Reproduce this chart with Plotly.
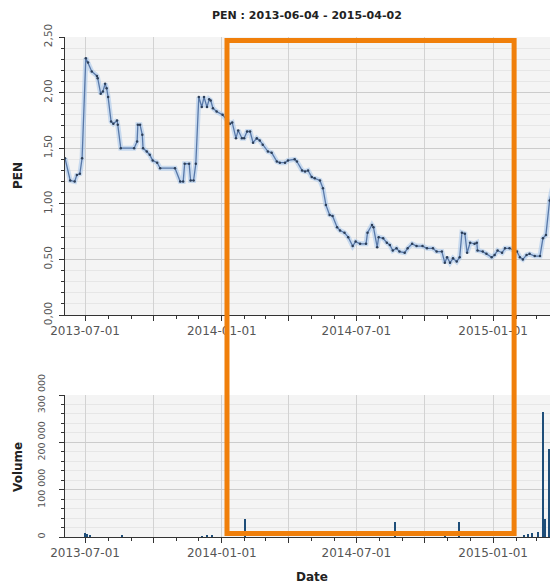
import plotly.graph_objects as go

title_text = "PEN : 2013-06-04 - 2015-04-02"

price_dates = [
    "2013-06-04", "2013-06-11", "2013-06-17", "2013-06-20", "2013-06-24", "2013-06-27",
    "2013-07-02", "2013-07-05", "2013-07-10", "2013-07-17", "2013-07-18", "2013-07-22",
    "2013-07-25", "2013-07-28", "2013-07-30", "2013-08-01", "2013-08-05", "2013-08-08",
    "2013-08-13", "2013-08-14", "2013-08-18", "2013-09-05", "2013-09-09", "2013-09-10",
    "2013-09-13", "2013-09-16", "2013-09-17", "2013-09-22", "2013-09-26", "2013-09-30",
    "2013-10-06", "2013-10-10", "2013-10-30", "2013-11-06", "2013-11-10", "2013-11-12",
    "2013-11-18", "2013-11-20", "2013-11-24", "2013-11-27", "2013-12-01", "2013-12-05",
    "2013-12-08", "2013-12-12", "2013-12-15", "2013-12-17", "2013-12-20", "2013-12-25",
    "2014-01-02", "2014-01-12", "2014-01-15", "2014-01-20", "2014-01-23", "2014-01-28",
    "2014-01-31", "2014-02-04", "2014-02-08", "2014-02-12", "2014-02-17", "2014-02-21",
    "2014-02-25", "2014-03-04", "2014-03-09", "2014-03-16", "2014-03-20", "2014-03-27",
    "2014-03-31", "2014-04-09", "2014-04-12", "2014-04-19", "2014-04-23", "2014-04-27",
    "2014-05-02", "2014-05-06", "2014-05-13", "2014-05-17", "2014-05-21", "2014-05-26",
    "2014-05-30", "2014-06-05", "2014-06-09", "2014-06-15", "2014-06-20", "2014-06-26",
    "2014-06-30", "2014-07-06", "2014-07-14", "2014-07-16", "2014-07-22", "2014-07-24",
    "2014-07-29", "2014-07-31", "2014-08-06", "2014-08-11", "2014-08-15", "2014-08-19",
    "2014-08-24", "2014-08-28", "2014-09-04", "2014-09-08", "2014-09-14", "2014-09-20",
    "2014-09-28", "2014-10-04", "2014-10-12", "2014-10-17", "2014-10-24", "2014-10-28",
    "2014-10-31", "2014-11-04", "2014-11-08", "2014-11-13", "2014-11-17", "2014-11-20",
    "2014-11-24", "2014-11-27", "2014-12-01", "2014-12-07", "2014-12-10", "2014-12-11",
    "2014-12-18", "2014-12-23", "2014-12-30", "2015-01-03", "2015-01-07", "2015-01-13",
    "2015-01-17", "2015-01-23", "2015-02-02", "2015-02-06", "2015-02-10", "2015-02-15",
    "2015-02-19", "2015-02-26", "2015-03-05", "2015-03-09", "2015-03-13", "2015-03-18",
    "2015-03-23", "2015-03-27", "2015-04-02",
]
price_values = [
    1.41, 1.21, 1.20, 1.26, 1.27, 1.41,
    2.31, 2.27, 2.19, 2.15, 2.13, 1.99,
    2.01, 2.08, 2.04, 1.96, 1.74, 1.72,
    1.75, 1.71, 1.50, 1.50, 1.56, 1.71,
    1.71, 1.62, 1.50, 1.47, 1.44, 1.39,
    1.37, 1.32, 1.32, 1.20, 1.20, 1.36,
    1.36, 1.21, 1.21, 1.36, 1.96, 1.87,
    1.96, 1.87, 1.94, 1.93, 1.86, 1.83,
    1.80, 1.72, 1.73, 1.59, 1.66, 1.59,
    1.59, 1.65, 1.65, 1.55, 1.59, 1.57,
    1.53, 1.47, 1.46, 1.38, 1.37, 1.37,
    1.39, 1.40, 1.38, 1.30, 1.29, 1.30,
    1.24, 1.23, 1.21, 1.14, 0.99, 0.90,
    0.89, 0.79, 0.76, 0.74, 0.70, 0.62,
    0.66, 0.64, 0.64, 0.74, 0.81, 0.79,
    0.61, 0.70, 0.69, 0.65, 0.63, 0.58,
    0.60, 0.57, 0.56, 0.60, 0.64, 0.62,
    0.62, 0.60, 0.60, 0.57, 0.57, 0.47,
    0.52, 0.47, 0.51, 0.48, 0.52, 0.74,
    0.73, 0.56, 0.65, 0.64, 0.65, 0.58,
    0.57, 0.55, 0.52, 0.54, 0.58, 0.56,
    0.60, 0.60, 0.57, 0.52, 0.50, 0.54,
    0.55, 0.53, 0.53, 0.69, 0.72, 1.03,
    1.20, 1.30, 1.35,
]

vol_dates = [
    "2013-07-01", "2013-07-04", "2013-07-08", "2013-08-20", "2013-12-05", "2013-12-12",
    "2013-12-19", "2014-02-01", "2014-08-22", "2014-10-28", "2014-11-17", "2015-02-12",
    "2015-02-17", "2015-02-22", "2015-03-03", "2015-03-10", "2015-03-12", "2015-03-17",
]
vol_values = [
    9000, 7000, 3000, 5000, 2000, 3000,
    2500, 39000, 31000, 5000, 32000, 5000,
    6000, 8000, 10000, 264000, 38000, 185000,
]

quarter_ticks = ["2013-07-01", "2013-10-01", "2014-01-01", "2014-04-01",
                 "2014-07-01", "2014-10-01", "2015-01-01", "2015-04-01"]
quarter_labels = ["2013-07-01", "", "2014-01-01", "", "2014-07-01", "", "2015-01-01", ""]

FONT = "DejaVu Sans"
tick_font = dict(family=FONT, size=12, color="#555555")

fig = go.Figure()
fig.add_trace(go.Scatter(
    x=price_dates, y=price_values, mode="lines",
    line=dict(color="rgba(170,200,235,0.6)", width=5),
    xaxis="x", yaxis="y", hoverinfo="skip"))
fig.add_trace(go.Scatter(
    x=price_dates, y=price_values, mode="lines+markers",
    line=dict(color="#5878a8", width=1.3),
    marker=dict(size=2.5, color="#2c3e58"),
    xaxis="x", yaxis="y"))
fig.add_trace(go.Bar(
    x=vol_dates, y=vol_values,
    marker=dict(color="#1f4e79", line_width=0),
    width=86400000 * 2,
    xaxis="x2", yaxis="y2"))

xcommon = dict(
    type="date", automargin=False,
    range=["2013-06-04", "2015-03-18 12:00"],
    tickmode="array", tickvals=quarter_ticks, ticktext=quarter_labels,
    ticks="outside", ticklen=5, tickcolor="#333333",
    showgrid=True, gridcolor="#d2d2d2", gridwidth=1,
    showline=True, linecolor="#333333", linewidth=1,
    tickfont=tick_font, zeroline=False,
    minor=dict(dtick="M1", tick0="2013-07-01", ticks="outside", ticklen=3,
               tickcolor="#333333", showgrid=False),
)

ycommon = dict(
    automargin=False,
    ticks="outside", ticklen=5, tickcolor="#333333",
    showgrid=True, gridcolor="#cccccc", gridwidth=1,
    showline=True, linecolor="#333333", linewidth=1,
    tickangle=-90, zeroline=False,
)

fig.update_layout(
    width=550, height=585,
    margin=dict(l=65, r=0, t=37, b=48, autoexpand=False),
    paper_bgcolor="white", plot_bgcolor="#f4f4f4",
    separators=", ",
    showlegend=False, bargap=0,
    title=dict(text="<b>" + title_text + "</b>", x=0.558, y=0.974,
               xanchor="center", yanchor="middle", xref="container", yref="container",
               automargin=False,
               font=dict(family=FONT, size=11, color="#222222")),
    xaxis=dict(domain=[0, 1], anchor="y", **xcommon),
    xaxis2=dict(domain=[0, 1], anchor="y2", matches="x", **xcommon),
    yaxis=dict(domain=[0.444, 1], anchor="x", range=[0, 2.5],
               tickvals=[0, 0.5, 1.0, 1.5, 2.0, 2.5], tickformat=".2f",
               tickfont=dict(family=FONT, size=10.5, color="#555555"),
               ticklabelstandoff=3,
               minor=dict(dtick=0.1, showgrid=True, gridcolor="#e6e6e6",
                          ticks="outside", ticklen=3, tickcolor="#333333"),
               **ycommon),
    yaxis2=dict(domain=[0, 0.284], anchor="x2", range=[0, 300000],
                tickvals=[0, 100000, 200000, 300000], tickformat=",d",
                tickfont=dict(family=FONT, size=9.5, color="#555555"),
                ticklabelstandoff=10,
                minor=dict(dtick=20000, showgrid=True, gridcolor="#e6e6e6",
                           ticks="outside", ticklen=3, tickcolor="#333333"),
                **ycommon),
    annotations=[
        dict(text="<b>PEN</b>", xref="paper", yref="paper", x=-0.097, y=0.724,
             textangle=-90, showarrow=False, xanchor="center", yanchor="middle",
             font=dict(family=FONT, size=12, color="#222222")),
        dict(text="<b>Volume</b>", xref="paper", yref="paper", x=-0.097, y=0.14,
             textangle=-90, showarrow=False, xanchor="center", yanchor="middle",
             font=dict(family=FONT, size=12, color="#222222")),
        dict(text="<b>Date</b>", xref="paper", yref="paper", x=0.509, y=-0.08,
             showarrow=False, xanchor="center", yanchor="middle",
             font=dict(family=FONT, size=12, color="#222222")),
    ],
    shapes=[
        dict(type="rect", xref="paper", yref="paper",
             x0=0.334, x1=0.926, y0=0.007, y1=0.993,
             line=dict(color="#f07f0a", width=5), fillcolor="rgba(0,0,0,0)",
             layer="above"),
    ],
)

fig.write_html("out.html",
               config={"displayModeBar": False},
               post_script="document.body.style.margin='0px';document.body.style.overflow='hidden';")
